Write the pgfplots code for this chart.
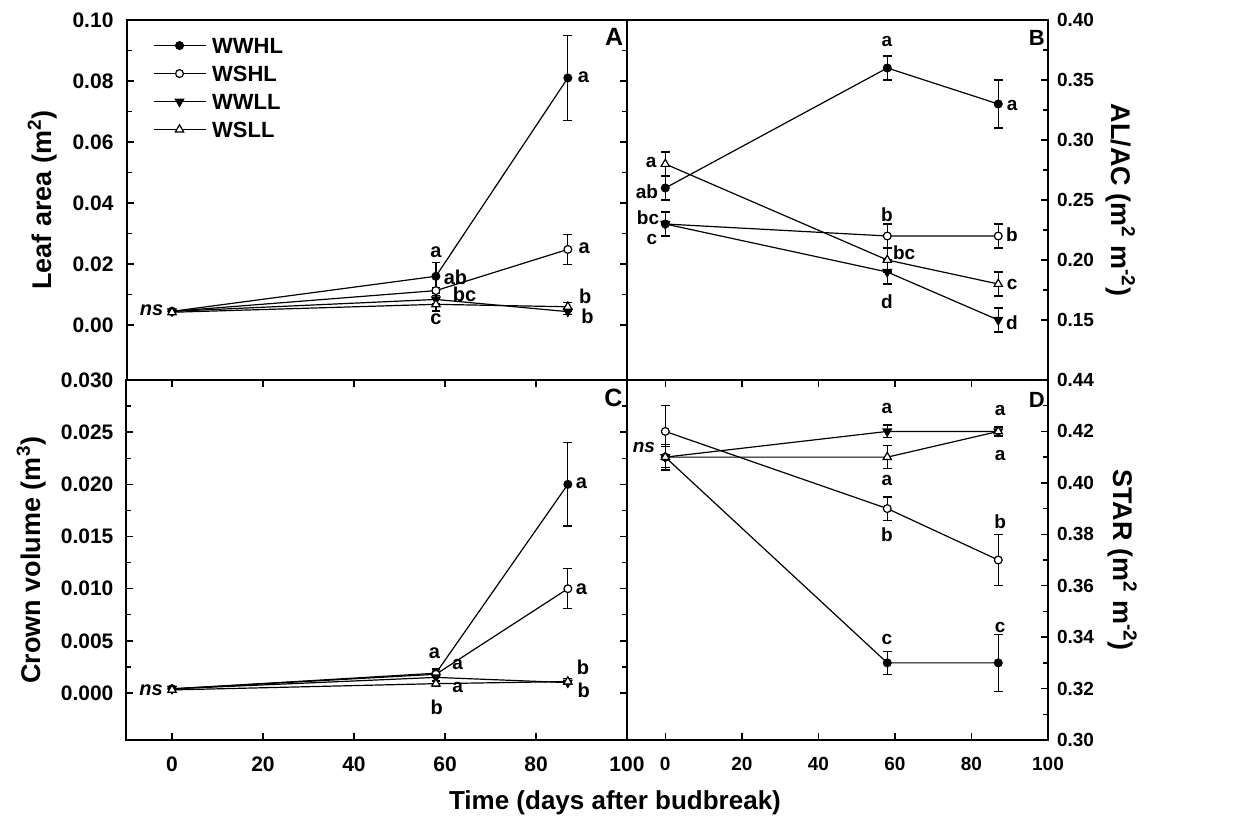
\documentclass[border=0pt]{standalone}
\usepackage{pgfplots}
\pgfplotsset{compat=1.18}
\usepackage{fontspec}
\setmainfont{Liberation Sans}
\newcommand{\fs}[1]{\fontsize{#1}{#1}\selectfont\bfseries}
\tikzset{
  annL/.style={font=\fs{10}, inner sep=0pt},
  annR/.style={font=\fs{9.5}, inner sep=0pt},
}
\pgfplotsset{
  panel/.style={
    scale only axis, height=180pt, xmin=-10, xmax=100,
    axis line style={line width=1pt},
    every tick/.style={black, line width=0.7pt},
    tick align=inside, major tick length=3.5pt, minor tick length=2.5pt,
    xtick={0,20,40,60,80,100},
    scaled y ticks=false,
    clip=false,
    /pgf/number format/assume math mode=true,
    yticklabel style={/pgf/number format/fixed, /pgf/number format/fixed zerofill},
    anchor=south west,
  },
  ebar/.style={error bars/.cd, y dir=both, y explicit, error bar style={line width=0.6pt},
    error mark options={rotate=90, line width=0.6pt, mark size=2.2pt}},
  wwhl/.style={black, line width=0.6pt, mark=*, mark size=1.95pt, mark options={fill=black, solid}, ebar},
  wshl/.style={black, line width=0.6pt, mark=*, mark size=1.95pt, mark options={fill=white, solid}, ebar},
  wwll/.style={black, line width=0.6pt, mark=triangle*, mark size=2.4pt, mark options={fill=black, rotate=180, solid}, ebar},
  wsll/.style={black, line width=0.6pt, mark=triangle*, mark size=2.4pt, mark options={fill=white, solid}, ebar},
}
\begin{document}
\begin{tikzpicture}
\path[use as bounding box] (0,0) rectangle (620.5pt,412.5pt);
% ---------------- Panel A
\begin{axis}[panel, width=250.25pt, at={(63.25pt,222.5pt)},
  ymin=-0.018, ymax=0.10, ytick={0,0.02,0.04,0.06,0.08,0.10}, minor y tick num=1,
  xmajorticks=false,
  yticklabel style={font=\fs{10.5}, /pgf/number format/precision=2, xshift=-3pt},
  ylabel={Leaf area (m\textsuperscript{2})},
  ylabel style={font=\fs{13.5}, at={(axis description cs:-0.168,0.5)}, anchor=center},
  legend style={draw=none, fill=none, at={(0.040,0.980)}, anchor=north west, font=\fs{11},
    nodes={text height=8pt, text depth=0pt, inner sep=3pt}, row sep=0pt},
  legend cell align=left,
  legend image code/.code={\draw[mark repeat=2,mark phase=2] plot coordinates {(0pt,0pt)(13pt,0pt)(26pt,0pt)};},
]
\addplot+[wwhl] coordinates {(0,0.0045) +- (0,0.0005) (58,0.016) +- (0,0.0045) (87,0.081) +- (0,0.014)};
\addplot+[wshl] coordinates {(0,0.0045) +- (0,0.0005) (58,0.0113) +- (0,0.001) (87,0.0248) +- (0,0.005)};
\addplot+[wwll] coordinates {(0,0.0045) +- (0,0.0005) (58,0.0084) +- (0,0.0012) (87,0.0044) +- (0,0.001)};
\addplot+[wsll] coordinates {(0,0.0042) +- (0,0.0005) (58,0.0068) +- (0,0.0022) (87,0.0060) +- (0,0.0015)};
\legend{WWHL,WSHL,WWLL,WSLL}
\node[annL] at (axis cs:58,0.0239) {a};
\node[annL] at (axis cs:62.3,0.0157) {ab};
\node[annL] at (axis cs:64.3,0.0102) {bc};
\node[annL] at (axis cs:58,0.0020) {c};
\node[annL] at (axis cs:90.4,0.0814) {a};
\node[annL] at (axis cs:90.6,0.0252) {a};
\node[annL] at (axis cs:90.8,0.0094) {b};
\node[annL] at (axis cs:91.3,0.0028) {b};
\node[annL] at (axis cs:-4.5,0.0049) {\textit{ns}};
\node[font=\fs{12.5}, inner sep=0pt] at (axis cs:97.2,0.0943) {A};
\end{axis}
% ---------------- Panel B
\begin{axis}[panel, width=210.5pt, at={(313.5pt,222.5pt)},
  ymin=0.10, ymax=0.40, ytick={0.15,0.20,0.25,0.30,0.35,0.40}, minor y tick num=1,
  ytick pos=right, yticklabel pos=right,
  xmajorticks=false,
  yticklabel style={font=\fs{9.5}, /pgf/number format/precision=2, xshift=1pt},
  ylabel={AL/AC (m\textsuperscript{2} m\textsuperscript{-2})},
  ylabel style={font=\fs{13.5}, at={(axis description cs:1.172,0.5)}, anchor=center, rotate=180},
]
\addplot+[wwhl] coordinates {(0,0.26) +- (0,0.01) (58,0.36) +- (0,0.01) (87,0.33) +- (0,0.02)};
\addplot+[wshl] coordinates {(0,0.23) +- (0,0.01) (58,0.22) +- (0,0.01) (87,0.22) +- (0,0.01)};
\addplot+[wwll] coordinates {(0,0.23) +- (0,0.01) (58,0.19) +- (0,0.01) (87,0.15) +- (0,0.01)};
\addplot+[wsll] coordinates {(0,0.28) +- (0,0.01) (58,0.20) +- (0,0.01) (87,0.18) +- (0,0.01)};
\node[annR] at (axis cs:-3.7,0.281) {a};
\node[annR] at (axis cs:-4.8,0.257) {ab};
\node[annR] at (axis cs:-4.5,0.235) {bc};
\node[annR] at (axis cs:-3.5,0.2167) {c};
\node[annR] at (axis cs:57.9,0.3817) {a};
\node[annR] at (axis cs:57.9,0.2375) {b};
\node[annR] at (axis cs:62.4,0.2058) {bc};
\node[annR] at (axis cs:57.9,0.165) {d};
\node[annR] at (axis cs:90.6,0.329) {a};
\node[annR] at (axis cs:90.6,0.221) {b};
\node[annR] at (axis cs:90.6,0.180) {c};
\node[annR] at (axis cs:90.6,0.148) {d};
\node[font=\fs{11}, inner sep=0pt] at (axis cs:97.1,0.3854) {B};
\end{axis}
% ---------------- Panel C
\begin{axis}[panel, width=250.25pt, at={(63.25pt,42.5pt)},
  ymin=-0.0045, ymax=0.030, ytick={0,0.005,0.010,0.015,0.020,0.025,0.030}, minor y tick num=1,
  x tick label style={font=\fs{10.5}, yshift=-5pt},
  yticklabel style={font=\fs{10.5}, /pgf/number format/precision=3, xshift=-3pt},
  ylabel={Crown volume (m\textsuperscript{3})},
  ylabel style={font=\fs{13.5}, at={(axis description cs:-0.190,0.5)}, anchor=center},
  xlabel={Time (days after budbreak)},
  xlabel style={font=\fs{13}, at={(axis description cs:0.976,-0.175)}, anchor=center},
]
\addplot+[wwhl] coordinates {(0,0.0004) +- (0,0.0001) (58,0.0019) +- (0,0.0004) (87,0.020) +- (0,0.004)};
\addplot+[wshl] coordinates {(0,0.0004) +- (0,0.0001) (58,0.0018) +- (0,0.0003) (87,0.010) +- (0,0.0019)};
\addplot+[wwll] coordinates {(0,0.0004) +- (0,0.0001) (58,0.0015) +- (0,0.0004) (87,0.0010) +- (0,0.0002)};
\addplot+[wsll] coordinates {(0,0.0003) +- (0,0.0001) (58,0.0009) +- (0,0.0003) (87,0.0011) +- (0,0.0003)};
\node[annL] at (axis cs:-4.6,0.0003) {\textit{ns}};
\node[annL] at (axis cs:57.7,0.0038) {a};
\node[font=\fs{9.5}, inner sep=0pt] at (axis cs:62.8,0.0027) {a};
\node[font=\fs{9.5}, inner sep=0pt] at (axis cs:62.8,0.0005) {a};
\node[annL] at (axis cs:58.2,-0.0014) {b};
\node[annL] at (axis cs:90.0,0.0201) {a};
\node[annL] at (axis cs:90.0,0.00997) {a};
\node[annL] at (axis cs:90.3,0.0025) {b};
\node[annL] at (axis cs:90.5,0.0003) {b};
\node[font=\fs{12.5}, inner sep=0pt] at (axis cs:97.0,0.0283) {C};
\end{axis}
% ---------------- Panel D
\begin{axis}[panel, width=210.5pt, at={(313.5pt,42.5pt)},
  ymin=0.30, ymax=0.44, ytick={0.30,0.32,0.34,0.36,0.38,0.40,0.42,0.44}, minor y tick num=1,
  ytick pos=right, yticklabel pos=right,
  x tick label style={font=\fs{9.5}, yshift=-5pt},
  yticklabel style={font=\fs{9.5}, /pgf/number format/precision=2, xshift=1pt},
  ylabel={STAR (m\textsuperscript{2} m\textsuperscript{-2})},
  ylabel style={font=\fs{13.5}, at={(axis description cs:1.176,0.5)}, anchor=center, rotate=180},
]
\addplot+[wwhl] coordinates {(0,0.41) +- (0,0.004) (58,0.33) +- (0,0.0045) (87,0.33) +- (0,0.011)};
\addplot+[wshl] coordinates {(0,0.42) +- (0,0.01) (58,0.39) +- (0,0.0045) (87,0.37) +- (0,0.01)};
\addplot+[wwll] coordinates {(0,0.41) +- (0,0.004) (58,0.42) +- (0,0.0025) (87,0.42) +- (0,0.0015)};
\addplot+[wsll] coordinates {(0,0.41) +- (0,0.005) (58,0.41) +- (0,0.0045) (87,0.42) +- (0,0.002)};
\node[annR] at (axis cs:-5.6,0.4139) {\textit{ns}};
\node[annR] at (axis cs:57.9,0.4291) {a};
\node[annR] at (axis cs:57.9,0.4011) {a};
\node[annR] at (axis cs:57.9,0.3797) {b};
\node[annR] at (axis cs:57.9,0.3389) {c};
\node[annR] at (axis cs:87.5,0.4283) {a};
\node[annR] at (axis cs:87.5,0.4108) {a};
\node[annR] at (axis cs:87.5,0.3848) {b};
\node[annR] at (axis cs:87.5,0.3436) {c};
\node[font=\fs{11}, inner sep=0pt] at (axis cs:97.1,0.4322) {D};
\end{axis}
\end{tikzpicture}
\end{document}
